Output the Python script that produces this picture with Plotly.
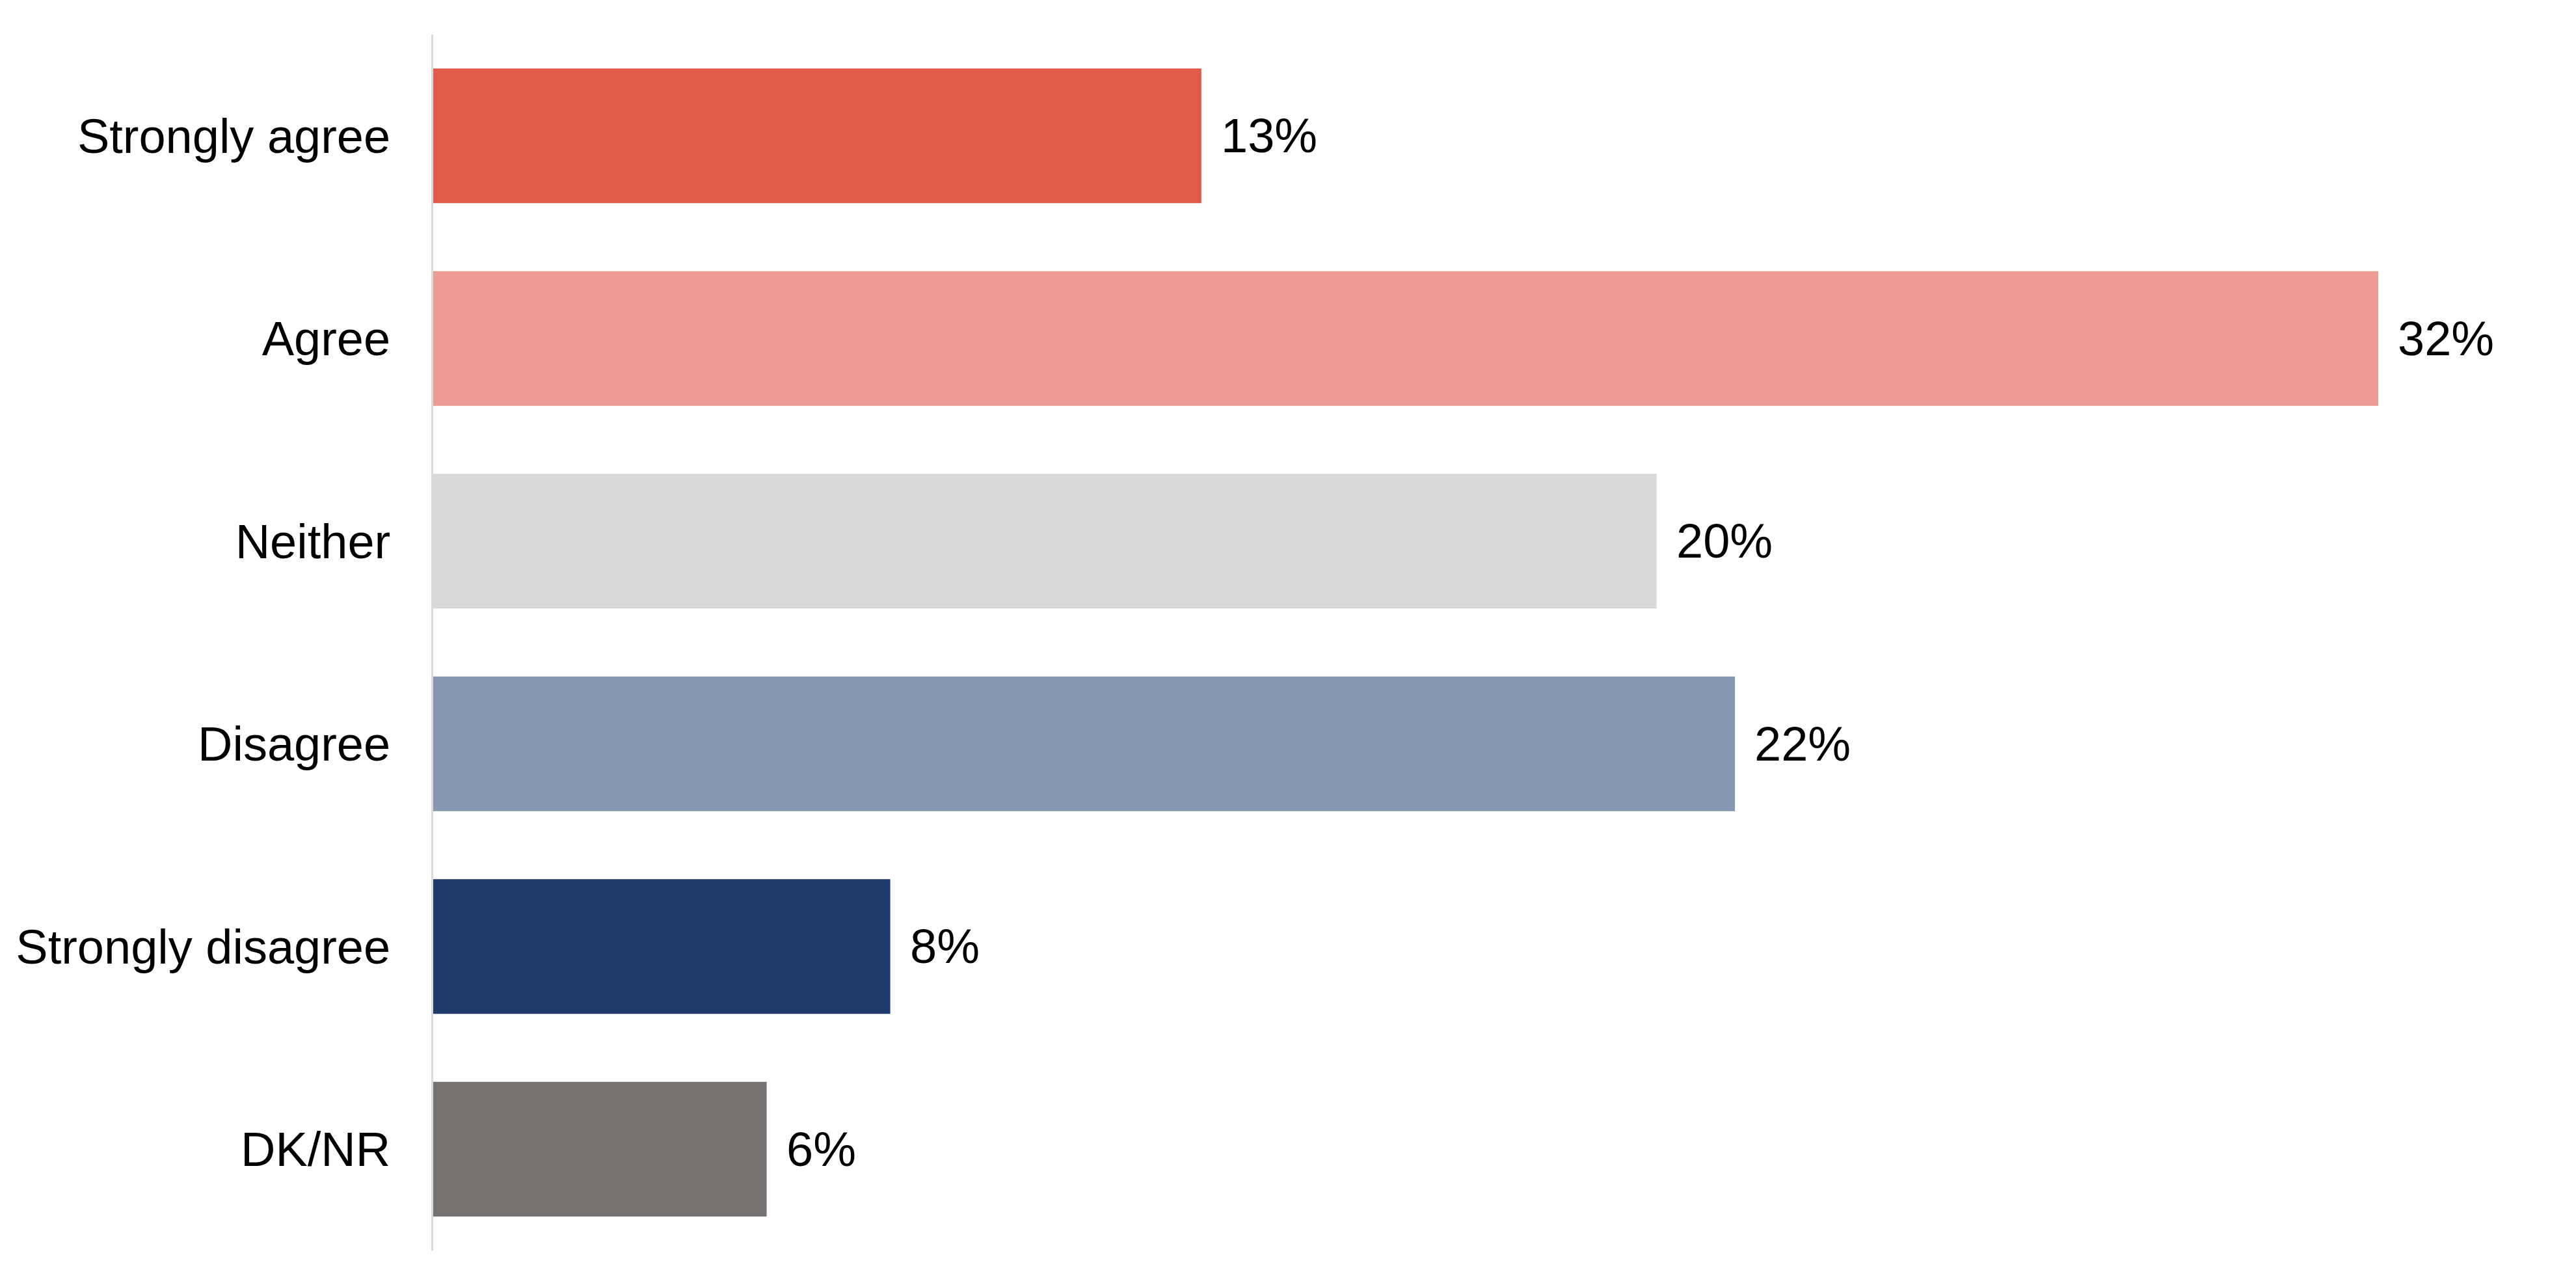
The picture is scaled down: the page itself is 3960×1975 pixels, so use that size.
import plotly.graph_objects as go

categories = ["Strongly agree", "Agree", "Neither", "Disagree", "Strongly disagree", "DK/NR"]
values = [12.74, 32.26, 20.29, 21.59, 7.58, 5.53]
labels = ["13%", "32%", "20%", "22%", "8%", "6%"]
colors = ["#E15B4B", "#EB9B93", "#D9D9D9", "#8497B0", "#1F3A68", "#767171"]

FONT = "Liberation Sans, Arial, sans-serif"

fig = go.Figure()
fig.add_trace(go.Bar(
    x=values, y=categories, orientation="h",
    marker=dict(color=colors, line=dict(width=0)),
    hoverinfo="skip",
))

for c, v, t in zip(categories, values, labels):
    fig.add_annotation(x=v, y=c, text=t, showarrow=False, xanchor="left",
                       yanchor="middle", xshift=28,
                       font=dict(family=FONT, size=74, color="#000000"))

fig.update_layout(
    width=3960, height=1975,
    margin=dict(l=658, r=58, t=45, b=61),
    paper_bgcolor="white", plot_bgcolor="white",
    bargap=0.335,
    showlegend=False,
    font=dict(family=FONT, size=74, color="#000000"),
)
fig.update_xaxes(range=[0, 35], showgrid=False, zeroline=False,
                 showticklabels=False, showline=False, fixedrange=True)
fig.update_yaxes(categoryorder="array", categoryarray=categories,
                 autorange=False, range=[5.5, -0.5],
                 showgrid=False, zeroline=False,
                 showline=True, linecolor="#D9D9D9", linewidth=3,
                 ticks="", ticklabelstandoff=48,
                 tickfont=dict(family=FONT, size=74, color="#000000"))

fig.write_html("out.html")
